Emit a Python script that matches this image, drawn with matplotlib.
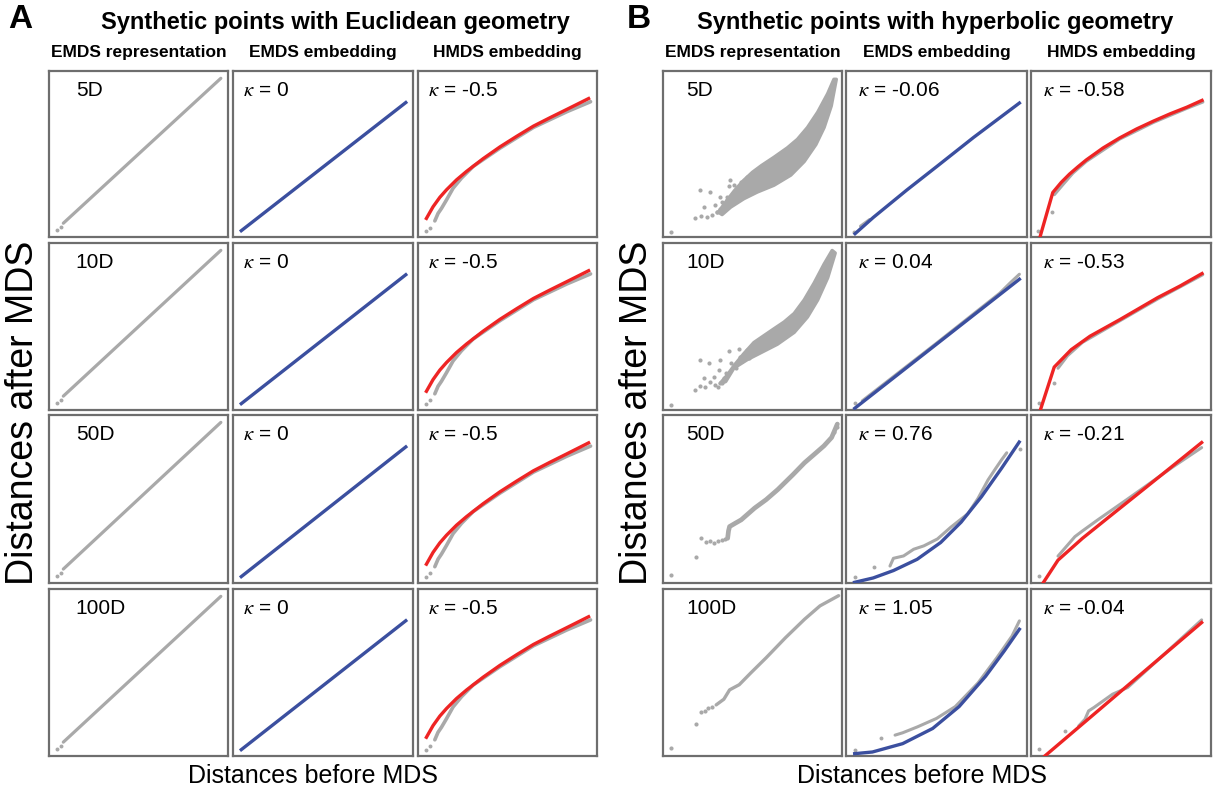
import matplotlib
matplotlib.use("Agg")
import matplotlib.pyplot as plt

# ---- data (axes coordinates 0..1) ----
dims = ["5D", "10D", "50D", "100D"]
kappa_A_emds = ["0", "0", "0", "0"]
kappa_A_hmds = ["-0.5", "-0.5", "-0.5", "-0.5"]
kappa_B_emds = ["-0.06", "0.04", "0.76", "1.05"]
kappa_B_hmds = ["-0.58", "-0.53", "-0.21", "-0.04"]

# panel A, EMDS representation (same for every row)
a_rep_x = [0.08, 0.96]
a_rep_y = [0.083, 0.956]
a_rep_dots_x = [0.046, 0.065]
a_rep_dots_y = [0.042, 0.062]

# panel A, EMDS embedding
a_emds_x = [0.046, 0.96]
a_emds_y = [0.038, 0.81]

# panel A, HMDS embedding
a_hmds_fit_x = [0.047, 0.084, 0.122, 0.159, 0.215, 0.271, 0.364, 0.458, 0.552, 0.645, 0.738, 0.832, 0.953]
a_hmds_fit_y = [0.112, 0.182, 0.239, 0.284, 0.344, 0.395, 0.472, 0.543, 0.607, 0.668, 0.719, 0.769, 0.834]
a_hmds_pts_x = [0.094, 0.112, 0.131, 0.159, 0.196, 0.243, 0.308, 0.458, 0.645, 0.832, 0.964]
a_hmds_pts_y = [0.097, 0.142, 0.172, 0.223, 0.294, 0.355, 0.425, 0.535, 0.66, 0.755, 0.815]
a_hmds_dots_x = [0.043, 0.066]
a_hmds_dots_y = [0.036, 0.057]

# panel B, EMDS representation, 5D cloud outline (upper edge up, lower edge down)
b5_up_x = [0.31, 0.35, 0.40, 0.45, 0.50, 0.55, 0.62, 0.695, 0.751, 0.807, 0.864, 0.92, 0.955]
b5_up_y = [0.15, 0.21, 0.28, 0.34, 0.39, 0.43, 0.48, 0.537, 0.588, 0.659, 0.751, 0.863, 0.95]
b5_lo_x = [0.968, 0.94, 0.90, 0.854, 0.789, 0.714, 0.62, 0.527, 0.452, 0.378, 0.33]
b5_lo_y = [0.95, 0.79, 0.66, 0.557, 0.455, 0.373, 0.312, 0.271, 0.231, 0.18, 0.135]
b5_out_x = [0.209, 0.26, 0.318, 0.331, 0.228, 0.29, 0.181, 0.213, 0.247, 0.275, 0.303,
            0.331, 0.35, 0.374, 0.368, 0.396, 0.415, 0.434, 0.452, 0.471, 0.499, 0.527,
            0.546, 0.387, 0.406, 0.359, 0.434, 0.462, 0.30, 0.32, 0.36, 0.42, 0.45,
            0.48, 0.50, 0.52, 0.56, 0.58, 0.61, 0.64]
b5_out_y = [0.286, 0.271, 0.241, 0.21, 0.18, 0.19, 0.112, 0.129, 0.122, 0.135, 0.149,
            0.163, 0.18, 0.343, 0.306, 0.312, 0.282, 0.333, 0.302, 0.359, 0.343, 0.404,
            0.363, 0.21, 0.231, 0.241, 0.257, 0.271, 0.15, 0.17, 0.22, 0.29, 0.32,
            0.33, 0.38, 0.37, 0.40, 0.42, 0.45, 0.47]

# 10D cloud
b10_up_x = [0.32, 0.36, 0.40, 0.45, 0.508, 0.564, 0.62, 0.677, 0.733, 0.789, 0.845, 0.90, 0.945]
b10_up_y = [0.16, 0.21, 0.27, 0.335, 0.404, 0.445, 0.486, 0.527, 0.578, 0.659, 0.761, 0.873, 0.955]
b10_lo_x = [0.962, 0.92, 0.864, 0.807, 0.733, 0.639, 0.546, 0.471, 0.396, 0.35]
b10_lo_y = [0.94, 0.792, 0.659, 0.557, 0.465, 0.394, 0.343, 0.302, 0.251, 0.17]
b10_out_x = [0.209, 0.256, 0.321, 0.368, 0.424, 0.452, 0.312, 0.284, 0.228, 0.209, 0.265,
             0.181, 0.237, 0.321, 0.378, 0.35, 0.406, 0.443, 0.48, 0.508, 0.293, 0.34,
             0.31, 0.33, 0.43, 0.47, 0.53, 0.55, 0.59, 0.62]
b10_out_y = [0.298, 0.282, 0.298, 0.353, 0.363, 0.333, 0.241, 0.2, 0.19, 0.143, 0.169,
             0.118, 0.139, 0.159, 0.282, 0.22, 0.251, 0.292, 0.312, 0.384, 0.149, 0.19,
             0.135, 0.16, 0.32, 0.36, 0.40, 0.42, 0.45, 0.47]

# 50D and 100D: isolated dots, small cluster, then a string of points
b50_dots_x = [0.045, 0.183, 0.211, 0.243, 0.265, 0.286, 0.31, 0.329, 0.345, 0.955, 0.97]
b50_dots_y = [0.05, 0.156, 0.27, 0.244, 0.25, 0.24, 0.248, 0.256, 0.262, 0.90, 0.93]
b50_x = [0.361, 0.366, 0.372, 0.404, 0.437, 0.512, 0.576, 0.641, 0.727, 0.791, 0.856, 0.899, 0.942, 0.974]
b50_y = [0.266, 0.31, 0.336, 0.356, 0.376, 0.446, 0.496, 0.556, 0.646, 0.716, 0.776, 0.816, 0.866, 0.946]
b100_dots_x = [0.045, 0.183, 0.211, 0.233, 0.254, 0.275]
b100_dots_y = [0.048, 0.191, 0.266, 0.272, 0.286, 0.296]
b100_x = [0.297, 0.34, 0.372, 0.426, 0.49, 0.576, 0.684, 0.791, 0.877, 0.981]
b100_y = [0.306, 0.34, 0.396, 0.427, 0.497, 0.588, 0.708, 0.819, 0.899, 0.96]

# panel B, EMDS embedding
b_emds_fit_x = [
    [0.05, 0.151, 0.336, 0.502, 0.705, 0.958],
    [0.048, 0.958],
    [0.047, 0.15, 0.262, 0.393, 0.523, 0.636, 0.748, 0.86, 0.957],
    [0.048, 0.146, 0.313, 0.479, 0.625, 0.771, 0.875, 0.958],
]
b_emds_fit_y = [
    [0.02, 0.118, 0.283, 0.425, 0.60, 0.807],
    [0.01, 0.783],
    [0.004, 0.03, 0.074, 0.141, 0.241, 0.362, 0.513, 0.684, 0.839],
    [0.014, 0.024, 0.074, 0.165, 0.296, 0.477, 0.63, 0.759],
]
b_emds_pts_x = [
    [0.08, 0.13],
    [0.09, 0.5, 0.85, 0.906, 0.958],
    [0.243, 0.262, 0.318, 0.374, 0.43, 0.505, 0.579, 0.673, 0.729, 0.785, 0.822, 0.86, 0.888],
    [0.271, 0.313, 0.396, 0.5, 0.604, 0.729, 0.833, 0.917, 0.958],
]
b_emds_pts_y = [
    [0.065, 0.105],
    [0.055, 0.4, 0.70, 0.76, 0.813],
    [0.101, 0.147, 0.161, 0.201, 0.221, 0.262, 0.332, 0.412, 0.503, 0.614, 0.674, 0.734, 0.775],
    [0.125, 0.139, 0.175, 0.225, 0.296, 0.437, 0.588, 0.718, 0.809],
]
b_emds_dots_x = [[0.045], [0.052], [0.047, 0.153, 0.963], [0.048, 0.194]]
b_emds_dots_y = [[0.03], [0.04], [0.034, 0.097, 0.795], [0.038, 0.105]]

# panel B, HMDS embedding
b_hmds_fit_x = [
    [0.05, 0.121, 0.168, 0.214, 0.261, 0.307, 0.40, 0.493, 0.587, 0.68, 0.773, 0.866, 0.95],
    [0.052, 0.129, 0.223, 0.328, 0.495, 0.704, 0.829, 0.95],
    [0.067, 0.15, 0.286, 0.453, 0.641, 0.829, 0.948],
    [0.077, 0.948],
]
b_hmds_fit_y = [
    [0.0, 0.268, 0.329, 0.379, 0.423, 0.464, 0.536, 0.597, 0.651, 0.698, 0.742, 0.782, 0.823],
    [0.0, 0.257, 0.361, 0.442, 0.542, 0.673, 0.743, 0.817],
    [0.0, 0.136, 0.266, 0.41, 0.571, 0.733, 0.836],
    [0.0, 0.799],
]
b_hmds_pts_x = [
    [0.13, 0.177, 0.233, 0.307, 0.493, 0.68, 0.866, 0.955],
    [0.15, 0.203, 0.286, 0.495, 0.704, 0.954],
    [0.15, 0.244, 0.286, 0.37, 0.537, 0.787, 0.948],
    [0.265, 0.30, 0.32, 0.349, 0.453, 0.537, 0.70, 0.948],
]
b_hmds_pts_y = [
    [0.255, 0.315, 0.385, 0.455, 0.59, 0.69, 0.775, 0.813],
    [0.25, 0.325, 0.405, 0.535, 0.665, 0.81],
    [0.16, 0.276, 0.31, 0.375, 0.50, 0.69, 0.806],
    [0.18, 0.22, 0.27, 0.29, 0.37, 0.41, 0.57, 0.815],
]
b_hmds_dots_x = [[0.037, 0.115], [0.042, 0.129], [0.046], [0.046, 0.188]]
b_hmds_dots_y = [[0.036, 0.153], [0.044, 0.161], [0.042], [0.04, 0.149]]

GRAY = "#a9a9a9"
BLUE = "#3b4f9f"
RED = "#ee2424"
EDGE = "#6e6e6e"

plt.rcParams["font.family"] = ["Liberation Sans", "DejaVu Sans"]
plt.rcParams["mathtext.fontset"] = "stix"

W, H = 1228, 797
fig = plt.figure(figsize=(W / 100, H / 100), dpi=100)

cols_A = [(49, 228), (233, 413), (418, 597)]
cols_B = [(663, 842), (846, 1027), (1031, 1211)]
rows = [(71, 237), (243, 410), (415, 583), (589, 756)]


def make_ax(col, row):
    x0, x1 = col
    y0, y1 = row
    ax = fig.add_axes([x0 / W, 1 - y1 / H, (x1 - x0) / W, (y1 - y0) / H])
    ax.set_xlim(0, 1)
    ax.set_ylim(0, 1)
    ax.set_xticks([])
    ax.set_yticks([])
    for s in ax.spines.values():
        s.set_color(EDGE)
        s.set_linewidth(1.6)
    return ax


def corner(ax, txt, x):
    ax.text(x, 0.885, txt, transform=ax.transAxes, fontsize=15, ha="left", va="center")


def pts(ax, x, y, size=8):
    ax.scatter(x, y, s=size, color=GRAY, linewidths=0, zorder=2)


def string(ax, x, y, lw=2.2):
    ax.plot(x, y, color=GRAY, lw=lw, solid_capstyle="round", solid_joinstyle="round", zorder=2)


for r in range(4):
    # ---- panel A ----
    ax = make_ax(cols_A[0], rows[r])
    string(ax, a_rep_x, a_rep_y, 2.3)
    pts(ax, a_rep_dots_x, a_rep_dots_y)
    corner(ax, dims[r], 0.15)

    ax = make_ax(cols_A[1], rows[r])
    ax.plot(a_emds_x, a_emds_y, color=BLUE, lw=2.4)
    corner(ax, r"$\kappa$ = " + kappa_A_emds[r], 0.057)

    ax = make_ax(cols_A[2], rows[r])
    string(ax, a_hmds_pts_x, a_hmds_pts_y, 2.6)
    pts(ax, a_hmds_dots_x, a_hmds_dots_y)
    ax.plot(a_hmds_fit_x, a_hmds_fit_y, color=RED, lw=2.4, zorder=3)
    corner(ax, r"$\kappa$ = " + kappa_A_hmds[r], 0.057)

    # ---- panel B ----
    ax = make_ax(cols_B[0], rows[r])
    if r == 0:
        ax.fill(b5_up_x + b5_lo_x, b5_up_y + b5_lo_y, color=GRAY, lw=2.5, ec=GRAY,
                joinstyle="round")
        pts(ax, b5_out_x + [0.045], b5_out_y + [0.031], 9)
    elif r == 1:
        ax.fill(b10_up_x + b10_lo_x, b10_up_y + b10_lo_y, color=GRAY, lw=2.5, ec=GRAY,
                joinstyle="round")
        pts(ax, b10_out_x + [0.045], b10_out_y + [0.031], 9)
    elif r == 2:
        string(ax, b50_x, b50_y, 3.4)
        pts(ax, b50_dots_x, b50_dots_y, 9)
    else:
        string(ax, b100_x, b100_y, 2.4)
        pts(ax, b100_dots_x, b100_dots_y, 9)
    corner(ax, dims[r], 0.13)

    ax = make_ax(cols_B[1], rows[r])
    string(ax, b_emds_pts_x[r], b_emds_pts_y[r])
    pts(ax, b_emds_dots_x[r], b_emds_dots_y[r])
    ax.plot(b_emds_fit_x[r], b_emds_fit_y[r], color=BLUE, lw=2.4, zorder=3)
    corner(ax, r"$\kappa$ = " + kappa_B_emds[r], 0.068)

    ax = make_ax(cols_B[2], rows[r])
    string(ax, b_hmds_pts_x[r], b_hmds_pts_y[r])
    pts(ax, b_hmds_dots_x[r], b_hmds_dots_y[r])
    ax.plot(b_hmds_fit_x[r], b_hmds_fit_y[r], color=RED, lw=2.4, zorder=3)
    corner(ax, r"$\kappa$ = " + kappa_B_hmds[r], 0.068)


# ---- titles and labels ----
def ftext(x, y, s, **kw):
    fig.text(x / W, 1 - y / H, s, **kw)


ftext(8, 19, "A", fontsize=24, fontweight="bold", ha="left", va="center")
ftext(627, 19, "B", fontsize=24, fontweight="bold", ha="left", va="center")
ftext(335, 22, "Synthetic points with Euclidean geometry", fontsize=17, fontweight="bold",
      ha="center", va="center")
ftext(935, 22, "Synthetic points with hyperbolic geometry", fontsize=17, fontweight="bold",
      ha="center", va="center")

heads = ["EMDS representation", "EMDS embedding", "HMDS embedding"]
for cols in (cols_A, cols_B):
    for (x0, x1), h in zip(cols, heads):
        ftext((x0 + x1) / 2, 53, h, fontsize=12.5, fontweight="bold", ha="center", va="center")

ftext(23, 413, "Distances after MDS", fontsize=27, rotation=90, ha="center", va="center")
ftext(637, 413, "Distances after MDS", fontsize=27, rotation=90, ha="center", va="center")
ftext(313, 776, "Distances before MDS", fontsize=18, ha="center", va="center")
ftext(922, 776, "Distances before MDS", fontsize=18, ha="center", va="center")

fig.savefig("out.png", dpi=100)
